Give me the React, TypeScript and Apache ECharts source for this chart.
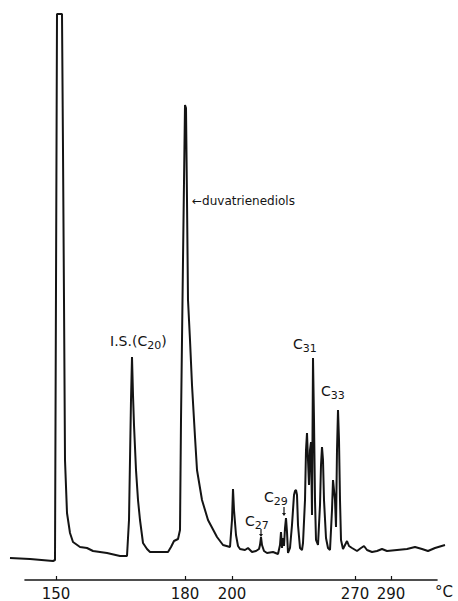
import React, { useEffect, useRef } from "react";
import * as echarts from "echarts";

// Retention position (chart units along the recorder trace) and detector signal (baseline ≈ 0)
const retention = [
  10, 30, 53, 55, 57, 62, 63, 64, 65, 67, 70, 73, 80, 87, 93, 107, 120, 127,
  129, 131, 132, 133, 134, 136, 138, 140, 143, 147, 150, 160, 168, 171, 174, 178,
  180, 181, 183, 185, 186, 187, 188, 190, 192, 195, 197, 202, 208, 217, 223, 230,
  232, 233, 234, 236, 238, 240, 245, 248, 252, 256, 259, 260, 261, 262, 264, 267,
  273, 278, 280, 281, 282, 283, 284, 285, 286, 287, 288, 290, 292, 294, 295, 296,
  297, 298, 300, 302, 303, 305, 306, 307, 308, 309, 310, 311, 312, 313, 314, 315,
  316, 318, 320, 321, 322, 323, 324, 326, 328, 330, 332, 333, 334, 335, 336, 337,
  338, 339, 340, 341, 343, 345, 347, 349, 352, 357, 361, 364, 367, 372, 377, 382,
  387, 397, 407, 415, 422, 428, 435, 445,
];
const signal = [
  2, 1, -1, 0, 546, 546, 410, 260, 100, 47, 27, 18, 13, 12, 9, 7, 4, 4,
  40, 160, 203, 165, 135, 90, 60, 40, 17, 11, 8, 8, 8, 13, 19, 21,
  30, 140, 300, 455, 452, 360, 260, 220, 175, 123, 90, 60, 40, 23, 15, 13,
  40, 71, 50, 25, 14, 11, 10, 12, 8, 9, 11, 15, 23, 15, 9, 7,
  8, 6, 15, 28, 12, 22, 14, 32, 42, 28, 7, 12, 35, 65, 69, 70,
  65, 35, 12, 10, 17, 60, 110, 127, 100, 75, 110, 118, 45, 202, 140, 60,
  20, 15, 55, 95, 113, 100, 60, 22, 12, 10, 50, 80, 70, 60, 33, 110,
  150, 120, 60, 20, 11, 15, 19, 14, 12, 9, 12, 14, 10, 8, 9, 11,
  9, 10, 11, 13, 11, 9, 12, 15,
];

// Temperature programme ticks along the bottom scale
const tempLabels = ["150", "180", "200", "270", "290"];
const tempTickPos = [56, 185, 232, 355, 391];

const FONT = "DejaVu Sans";
const INK = "#141414";

export default function App() {
  const ref = useRef<HTMLDivElement>(null);

  useEffect(() => {
    if (!ref.current) return;
    const chart = echarts.init(ref.current, undefined, { renderer: "svg" });
    const data = retention.map((x, i) => [x, signal[i]]);

    const sub = (main: string, s: string, tail = "") =>
      `{n|${main}}{s|${s}}` + (tail ? `{n|${tail}}` : "");
    const rich = {
      n: { fontSize: 14, fontFamily: FONT, fill: INK, color: INK },
      s: { fontSize: 11, fontFamily: FONT, fill: INK, color: INK, padding: [8, 0, 0, 0] },
    };
    const label = (x: number, y: number, text: string) => ({
      type: "text",
      x,
      y,
      style: {
        text,
        rich,
        fill: INK,
        font: `14px ${FONT}`,
        verticalAlign: "middle",
        align: "left",
      },
    });
    const downArrow = (x: number, y1: number, y2: number) => [
      { type: "line", shape: { x1: x, y1, x2: x, y2: y2 - 2 }, style: { stroke: INK, lineWidth: 1.2 } },
      {
        type: "polygon",
        shape: { points: [[x - 2, y2 - 3], [x + 2, y2 - 3], [x, y2]] },
        style: { fill: INK },
      },
    ];

    chart.setOption({
      animation: false,
      backgroundColor: "#ffffff",
      grid: [
        { left: 0, right: 0, top: 0, bottom: 0 },
        { left: 25, right: 21, top: 0, bottom: 21 },
      ],
      xAxis: [
        { type: "value", gridIndex: 0, min: 0, max: 458, show: false },
        {
          type: "value",
          gridIndex: 1,
          min: 25,
          max: 437,
          axisLine: { show: true, lineStyle: { color: INK, width: 1.6 } },
          axisTick: {
            show: true,
            customValues: tempTickPos,
            length: 4,
            inside: true,
            lineStyle: { color: INK, width: 1.2 },
          },
          axisLabel: {
            show: true,
            customValues: tempTickPos,
            margin: 6,
            color: INK,
            fontSize: 15,
            fontFamily: FONT,
            formatter: (v: number) => {
              const i = tempTickPos.indexOf(v);
              return i >= 0 ? tempLabels[i] : "";
            },
          },
          splitLine: { show: false },
        },
      ],
      yAxis: [
        { type: "value", gridIndex: 0, min: -41, max: 560, show: false },
        { type: "value", gridIndex: 1, min: 0, max: 1, show: false },
      ],
      series: [
        {
          type: "line",
          xAxisIndex: 0,
          yAxisIndex: 0,
          data,
          symbol: "none",
          lineStyle: { color: INK, width: 2 },
          silent: true,
        },
      ],
      graphic: [
        label(110, 341, sub("I.S.(C", "20", ")")),
        {
          type: "text",
          x: 192,
          y: 201,
          style: {
            text: "←duvatrienediols",
            fill: INK,
            font: `12px ${FONT}`,
            verticalAlign: "middle",
          },
        },
        label(245, 521, sub("C", "27")),
        label(264, 497, sub("C", "29")),
        label(293, 344, sub("C", "31")),
        label(321, 391, sub("C", "33")),
        ...downArrow(261, 529, 537),
        ...downArrow(284, 507, 516),
        {
          type: "text",
          x: 435,
          y: 592,
          style: { text: "°C", fill: INK, font: `15px ${FONT}`, verticalAlign: "middle" },
        },
      ],
    });

    return () => chart.dispose();
  }, []);

  return (
    <div
      ref={ref}
      style={{ position: "absolute", left: 0, top: 0, width: 458, height: 601 }}
    />
  );
}
